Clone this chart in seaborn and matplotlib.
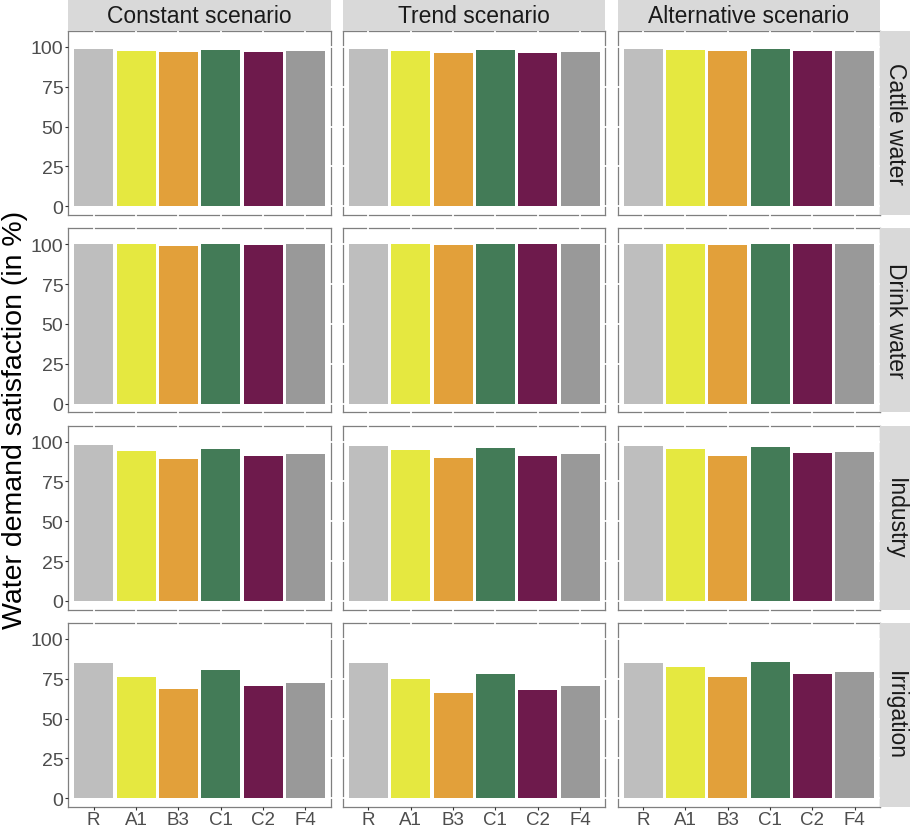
import matplotlib
matplotlib.use('Agg')
import matplotlib.pyplot as plt
import seaborn as sns
import pandas as pd

groups = ['R', 'A1', 'B3', 'C1', 'C2', 'F4']
scenarios = ['Constant scenario', 'Trend scenario', 'Alternative scenario']
uses = ['Cattle water', 'Drink water', 'Industry', 'Irrigation']
bar_colors = ['#BEBEBE', '#E5E840', '#E2A03A', '#437B57', '#6E1A4C', '#999999']

# values, in % (order of groups)
cattle_constant = [98.9, 97.7, 97.1, 98.3, 97.1, 97.7]
cattle_trend = [98.9, 97.7, 96.4, 98.3, 96.4, 97.1]
cattle_alternative = [98.9, 98.3, 97.3, 98.9, 97.7, 97.7]
drink_constant = [100, 100, 98.8, 100, 99.4, 100]
drink_trend = [100, 100, 99.5, 100, 100, 100]
drink_alternative = [100, 100, 99.4, 100, 100, 100]
industry_constant = [98.1, 94.4, 89.4, 95.6, 91.2, 92.5]
industry_trend = [97.3, 94.8, 89.8, 96.1, 91.1, 92.4]
industry_alternative = [97.3, 95.4, 91.1, 96.7, 92.9, 93.5]
irrigation_constant = [84.6, 75.8, 68.3, 80.2, 70.2, 72.1]
irrigation_trend = [84.8, 74.8, 66.1, 77.9, 68.0, 70.4]
irrigation_alternative = [84.6, 82.1, 75.8, 85.8, 77.9, 79.2]

table = {
    ('Cattle water', 'Constant scenario'): cattle_constant,
    ('Cattle water', 'Trend scenario'): cattle_trend,
    ('Cattle water', 'Alternative scenario'): cattle_alternative,
    ('Drink water', 'Constant scenario'): drink_constant,
    ('Drink water', 'Trend scenario'): drink_trend,
    ('Drink water', 'Alternative scenario'): drink_alternative,
    ('Industry', 'Constant scenario'): industry_constant,
    ('Industry', 'Trend scenario'): industry_trend,
    ('Industry', 'Alternative scenario'): industry_alternative,
    ('Irrigation', 'Constant scenario'): irrigation_constant,
    ('Irrigation', 'Trend scenario'): irrigation_trend,
    ('Irrigation', 'Alternative scenario'): irrigation_alternative,
}
rows = []
for (use, scen), vals in table.items():
    for g, v in zip(groups, vals):
        rows.append({'use': use, 'scenario': scen, 'group': g, 'value': v})
df = pd.DataFrame(rows)

sns.set_theme(style='white')
plt.rcParams['font.family'] = ['Liberation Sans', 'DejaVu Sans']

W, H = 911, 828
fig = plt.figure(figsize=(W / 100, H / 100), dpi=100)

def box(left, top, w, h):
    return [left / W, 1 - (top + h) / H, w / W, h / H]

col_left = [68.3, 343.0, 617.7]
col_w = 262.5
row_top = [32, 229.3, 426.7, 624]
row_h = 184
strip_col = '#D9D9D9'
ticks_y = [0, 25, 50, 75, 100]

for i, use in enumerate(uses):
    for j, scen in enumerate(scenarios):
        ax = fig.add_axes(box(col_left[j], row_top[i], col_w, row_h))
        sub = df[(df.use == use) & (df.scenario == scen)]
        sns.barplot(data=sub, x='group', y='value', hue='group', order=groups,
                    hue_order=groups, palette=bar_colors, saturation=1,
                    width=0.92, legend=False, linewidth=0, ax=ax)
        ax.set_xlim(-0.6, 5.6)
        ax.set_ylim(-5.5, 110)
        ax.set_yticks(ticks_y)
        ax.set_xlabel('')
        ax.set_ylabel('')
        is_left = j == 0
        is_bottom = i == len(uses) - 1
        for s in ax.spines.values():
            s.set_color('#7F7F7F')
            s.set_linewidth(0.9)
            s.set_zorder(2)
        ax.set_axisbelow(False)
        # small white marks cutting the frame at every break
        ax.xaxis.remove_overlapping_locs = False
        ax.yaxis.remove_overlapping_locs = False
        ax.set_xticks(range(len(groups)), minor=True)
        ax.set_yticks(ticks_y, minor=True)
        ax.tick_params(which='minor', direction='inout', length=4, width=1.3,
                       color='white', top=True, right=True,
                       bottom=not is_bottom, left=not is_left)
        ax.tick_params(which='major', direction='out', length=2.4, width=0.8,
                       color='#333333', labelsize=14, labelcolor='#4D4D4D',
                       pad=1.2, bottom=is_bottom, left=is_left, top=False,
                       right=False, labelbottom=is_bottom, labelleft=is_left)
        if is_bottom:
            ax.tick_params(axis='x', which='major', labelsize=13.5, pad=0.6)
        else:
            ax.set_xticklabels([])

        if i == 0:
            sax = fig.add_axes(box(col_left[j], 0, col_w, row_top[0]))
            sax.set_facecolor(strip_col)
            sax.set_xticks([]); sax.set_yticks([])
            for s in sax.spines.values():
                s.set_visible(False)
            sax.text(0.5, 0.47, scen, ha='center', va='center', fontsize=16.5,
                     color='#1A1A1A', transform=sax.transAxes)
        if j == len(scenarios) - 1:
            rax = fig.add_axes(box(col_left[j] + col_w, row_top[i], 30, row_h))
            rax.set_facecolor(strip_col)
            rax.set_xticks([]); rax.set_yticks([])
            for s in rax.spines.values():
                s.set_visible(False)
            rax.text(0.5, 0.5, use, ha='center', va='center', fontsize=16.5,
                     rotation=-90, color='#1A1A1A', transform=rax.transAxes)

fig.text(15 / W, 1 - 420 / H, 'Water demand satisfaction (in %)', rotation=90,
         ha='center', va='center', fontsize=20.5, color='black')

fig.savefig('out.png', dpi=100)
